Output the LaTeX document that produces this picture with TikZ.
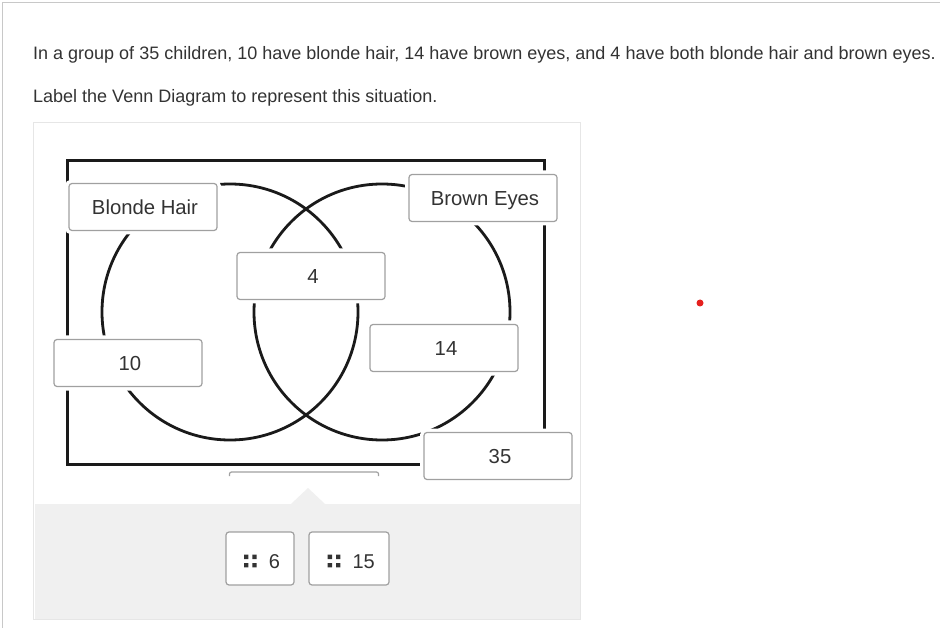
\documentclass[tikz,border=0pt]{standalone}
\usepackage{fontspec}
\setmainfont{Liberation Sans}
\definecolor{txt}{HTML}{333333}
\definecolor{boxline}{HTML}{A0A0A0}
\definecolor{panelline}{HTML}{E6E6E6}
\definecolor{panelfill}{HTML}{F0F0F0}
\definecolor{frameline}{HTML}{C8C8C8}
\definecolor{venn}{HTML}{1A1A1A}
\definecolor{dotred}{HTML}{E5201E}
\begin{document}
\begin{tikzpicture}[x=1pt,y=-1pt,
  answerbox/.style={draw=boxline, line width=1.2pt, fill=white, rounded corners=3pt,
    minimum width=148pt, minimum height=47pt, inner sep=0pt,
    text=txt, font=\fontsize{20.3}{24}\selectfont, text height=14.3pt, text depth=0pt,
    execute at begin node={\hspace*{4pt}},
    preaction={draw=white, line width=8pt}},
  dragbox/.style={draw=boxline, line width=1.2pt, fill=white, rounded corners=3pt,
    minimum height=53pt, inner sep=0pt},
  dragtext/.style={text=txt, font=\fontsize{20}{24}\selectfont, inner sep=0pt, anchor=base},
  maintext/.style={text=txt, font=\fontsize{18}{22}\selectfont, inner sep=0pt, anchor=base west},
  vennline/.style={draw=venn, line width=2.8pt}
]
\useasboundingbox (0,0) rectangle (940,628);
\fill[white] (0,0) rectangle (940,628);
% page frame
\draw[frameline, line width=1pt] (2.5,628) -- (2.5,2.5) -- (940,2.5);
% texts
\node[maintext] (q1) at (33,59.3) {In a group of 35 children, 10 have blonde hair, 14 have brown eyes, and 4 have both blonde hair and brown eyes.};
\node[maintext] (q2) at (33,102.7) {Label the Venn Diagram to represent this situation.};
% panel
\draw[panelline, line width=1pt] (33.5,122.5) rectangle (580.5,619.5);
\fill[panelfill] (35,504) rectangle (580,619);
\fill[panelfill] (291,504) -- (308,488) -- (325,504) -- cycle;
% venn
\draw[vennline, line width=3pt] (67,160.5) rectangle (544,464);
\draw[vennline] (230,312) circle[radius=128pt];
\draw[vennline] (382,312) circle[radius=128pt];
% partly hidden box below the frame
\draw[boxline, line width=1.2pt, rounded corners=2pt] (229.5,476) -- (229.5,472) -- (378.5,472) -- (378.5,476);
% answer boxes
\node[answerbox] (bh) at (143,207) {Blonde Hair};
\node[answerbox] (be) at (483,198) {Brown Eyes};
\node[answerbox] (four) at (311,276) {4};
\node[answerbox] (ten) at (128,363) {10};
\node[answerbox] (fourteen) at (444,348) {14};
\node[answerbox] (thirtyfive) at (498,456) {35};
% draggable items
\node[dragbox, minimum width=68pt] (d6) at (260,558.5) {};
\node[dragbox, minimum width=80pt] (d15) at (349,558.5) {};
\fill[txt] (244,554.7) rectangle (248.3,559) (252.3,554.7) rectangle (256.6,559)
           (244,563) rectangle (248.3,567.3) (252.3,563) rectangle (256.6,567.3);
\fill[txt] (327.7,554.7) rectangle (332,559) (336,554.7) rectangle (340.3,559)
           (327.7,563) rectangle (332,567.3) (336,563) rectangle (340.3,567.3);
\node[dragtext] (six) at (274.5,568.3) {6};
\node[dragtext] (fifteen) at (363.7,568.3) {15};
% red dot
\fill[dotred] (700,303) circle[radius=3.5pt];
\end{tikzpicture}
\end{document}
